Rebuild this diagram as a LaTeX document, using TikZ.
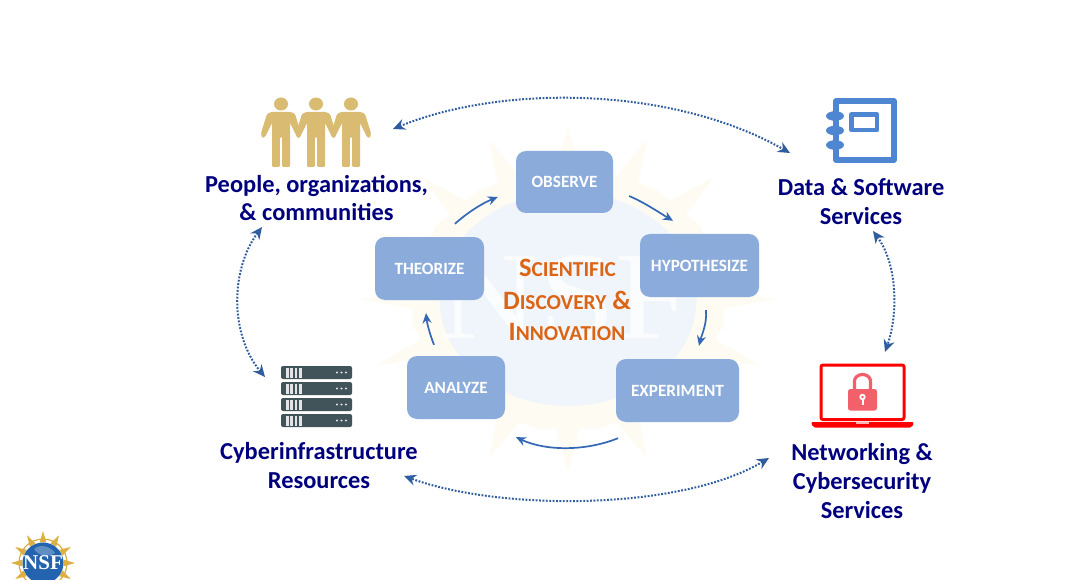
\documentclass[tikz,border=0pt]{standalone}
\usepackage{fontspec}
\setmainfont{Carlito}
\newfontfamily\serifnsf{Liberation Serif}
\usetikzlibrary{arrows.meta,calc}
\definecolor{navytxt}{HTML}{00007F}
\definecolor{boxblue}{HTML}{7FA3D8}
\definecolor{arrowblue}{HTML}{3568B4}
\definecolor{dotblue}{HTML}{2E5C9E}
\definecolor{orangetxt}{HTML}{DC6415}
\definecolor{gold}{HTML}{D9BC72}
\definecolor{iconblue}{HTML}{4F86D2}
\definecolor{serverc}{HTML}{41545A}
\definecolor{locked}{HTML}{F2616B}
\definecolor{palegold}{HTML}{FDFBF2}
\definecolor{paleblue}{HTML}{F0F5FB}
\definecolor{logoblue}{HTML}{2464AE}
\definecolor{logogold}{HTML}{DDAE42}
\newcommand{\capsc}[2]{{\fontsize{26.5}{30}\selectfont #1}{\fontsize{21.3}{30}\selectfont #2}}
\tikzset{
  x=1pt,y=-1pt,
  stepbox/.style={draw=none,fill=boxblue,fill opacity=.9,rounded corners=10pt,text=white,text opacity=1,
    font=\fontsize{17.2}{20}\selectfont\bfseries,inner sep=0pt,anchor=center},
  label/.style={text=navytxt,font=\fontsize{24.4}{28.8}\selectfont\bfseries,align=center,inner sep=0pt,anchor=center},
  centertxt/.style={text=orangetxt,font=\fontsize{26.5}{30}\selectfont\bfseries,inner sep=0pt,anchor=center},
  cyc/.style={draw=arrowblue,line width=1.7pt,-{Stealth[length=10pt,width=9pt]}},
  outer/.style={draw=dotblue,line width=2pt,dash pattern=on 1.8pt off 1.6pt,
    {Stealth[length=12pt,width=11pt,fill=iconblue!60]}-{Stealth[length=12pt,width=11pt,fill=iconblue!60]}},
  person/.pic={
    \fill[gold] (0,-63) ellipse[x radius=7,y radius=6.5];
    \fill[gold,rounded corners=1.2pt] (-10,-55) -- (10,-55) -- (14,-53) -- (20,-34) -- (19,-29) -- (16,-30) -- (9,-44) -- (9,0)
      -- (1.2,0) -- (1.2,-30) -- (-1.2,-30) -- (-1.2,0) -- (-9,0) -- (-9,-44) -- (-16,-30) -- (-19,-29) -- (-20,-34) -- (-14,-53) -- cycle;
  },
  serverbar/.pic={
    \fill[serverc,rounded corners=2pt] (0,0) rectangle (71,13);
    \foreach \s in {5,9.3,13.6,17.9}{\fill[white!85!serverc] (\s,1.5) rectangle +(2.6,10);}
    \foreach \s in {56,60.5,65}{\fill[white!85!serverc] (\s,6.5) circle[radius=1.2];}
  },
}
\begin{document}
\begin{tikzpicture}
\useasboundingbox (0,0) rectangle (1068,580);
\fill[white] (0,0) rectangle (1068,580);

% faint NSF seal behind the cycle
\begin{scope}[shift={(568,299)},xscale=1.2]
  \foreach \a in {0,22.5,...,337.5}{
    \fill[palegold] (\a-9:100) -- (\a-2:150) -- (\a:172) -- (\a+2:150) -- (\a+9:100) -- cycle;
    \fill[palegold] (\a+11.25:112) circle[radius=20];
  }
  \fill[palegold] (0,0) circle[radius=130];
  \fill[paleblue] (0,0) circle[radius=107];
\end{scope}
\node[inner sep=0pt,text=white,opacity=.75,font=\fontsize{125}{125}\selectfont\serifnsf,xscale=1.1] (wm) at (566,298) {NSF};

% cycle boxes
\node[stepbox,minimum width=97pt,minimum height=62pt] (obs) at (564.5,182) {OBSERVE};
\node[stepbox,minimum width=119pt,minimum height=63pt] (hyp) at (699.5,265.5) {HYPOTHESIZE};
\node[stepbox,minimum width=123pt,minimum height=63pt] (exp) at (677.5,390.5) {EXPERIMENT};
\node[stepbox,minimum width=98pt,minimum height=63pt] (ana) at (456,387.5) {ANALYZE};
\node[stepbox,minimum width=109pt,minimum height=63pt] (the) at (429.5,268.5) {THEORIZE};

% cycle arrows
\draw[cyc] ([shift={(16,14)}]obs.east) .. controls +(16,7) and +(-15,-9) .. ([shift={(-26.5,-13)}]hyp.north);
\draw[cyc] ([shift={(6.5,13)}]hyp.south) .. controls +(1,14) and +(3,-12) .. ([shift={(21.5,-13)}]exp.north);
\draw[cyc] ([shift={(-59.5,16)}]exp.south) .. controls +(-32,13) and +(30,14) .. ([shift={(60,18)}]ana.south);
\draw[cyc] ([shift={(-22,-11)}]ana.north) .. controls +(-4,-10) and +(1,10) .. ([shift={(-3.5,13)}]the.south);
\draw[cyc] ([shift={(25.5,-13)}]the.north) .. controls +(12,-11) and +(-15,6) .. ([shift={(-18,15)}]obs.west);

% centre title
\node[centertxt] (t1) at (567.5,268) {\capsc{S}{CIENTIFIC}};
\node[centertxt] (t2) at (567,300) {\capsc{D}{ISCOVERY} \&};
\node[centertxt] (t3) at (567,332) {\capsc{I}{NNOVATION}};

% outer labels
\node[label] (people) at (316.5,198) {People, organizations,\\\& communities};
\node[label] (data) at (861,201.5) {Data \& Software\\Services};
\node[label] (net) at (862,481) {Networking \&\\Cybersecurity\\Services};
\node[label] (cyber) at (319,465.5) {Cyberinfrastructure\\Resources};

% people icon
\path (281,167) pic {person};
\path (351,167) pic {person};
\path (316,167) pic {person};

% book icon
\coordinate (bk) at (833,98);
\draw[iconblue,line width=5.5pt,line join=round] ([shift={(3,3)}]bk) rectangle ([shift={(61,62)}]bk);
\draw[iconblue,line width=4.5pt,line join=round] ([shift={(18.5,16.5)}]bk) rectangle ([shift={(44,32)}]bk);
\foreach \yy in {18,32.5,47}{
  \fill[iconblue] ([shift={(2,\yy)}]bk) ellipse[x radius=9,y radius=4.8];
}

% server icon
\foreach \yy in {366,382,398,414}{ \path (281,\yy) pic {serverbar}; }

% laptop icon
\draw[red,line width=3pt,rounded corners=2pt] (821,365) rectangle (904,419.5);
\fill[red,rounded corners=2pt] (811,422) -- (914,422) -- (912,427.5) -- (813,427.5) -- cycle;
\fill[white!70!red] (856,422) rectangle (869,424);
\draw[locked,line width=3.2pt] (854.5,390) -- (854.5,381) arc[start angle=180,end angle=360,x radius=8,y radius=6.5] -- (870.5,390);
\fill[locked,rounded corners=2.5pt] (848,389) rectangle (877,410.5);
\fill[white] (862.5,397) circle[radius=3.2];
\fill[white] (861.5,397) rectangle (863.5,405);
\fill[locked] (862.5,397) circle[radius=1.4];

% outer dotted arrows
\draw[outer] ([shift={(76.5,-69)}]people.center) .. controls (500,85) and (670,85) .. ([shift={(-71,-48.5)}]data.center);
\draw[outer] ([shift={(12,29.5)}]data.center) .. controls (898,265) and (898,315) .. ([shift={(23,-129)}]net.center);
\draw[outer] ([shift={(-93,-23)}]net.center) .. controls (680,511) and (500,511) .. ([shift={(85,10.5)}]cyber.center);
\draw[outer] ([shift={(-54.5,29)}]people.center) .. controls (230,270) and (230,335) .. ([shift={(-54,-88.5)}]cyber.center);

% small seal in the corner
\begin{scope}
  \clip (0,520) rectangle (90,580);
  \begin{scope}[shift={(43,563)}]
    \foreach \a in {0,30,...,330}{
      \fill[logogold] (\a-9:21) -- (\a:32) -- (\a+9:21) -- cycle;
    }
    \draw[logogold,line width=1.2pt] (0,0) circle[radius=24];
    \fill[logoblue] (0,0) circle[radius=20.5];
    \fill[logoblue!55!white,opacity=.6] (-9,-14) .. controls (-2,-20) and (8,-16) .. (12,-10) .. controls (6,-6) and (-4,-6) .. cycle;
    \node[inner sep=0pt,text=white,font=\fontsize{21}{21}\selectfont\serifnsf\bfseries] (seal) at (0,0) {NSF};
  \end{scope}
\end{scope}
\end{tikzpicture}
\end{document}
